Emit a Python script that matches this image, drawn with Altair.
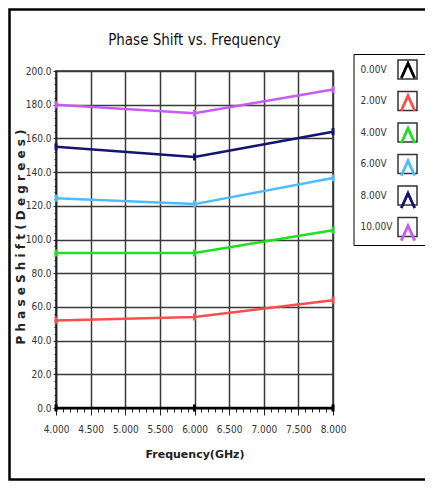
import altair as alt
import pandas as pd

freq = [4.0, 6.0, 8.0]
labels = ["0.00V", "2.00V", "4.00V", "6.00V", "8.00V", "10.00V"]
v0 = [0.0, 0.0, 0.0]
v2 = [52.0, 54.0, 64.0]
v4 = [92.0, 92.0, 105.5]
v6 = [124.5, 121.0, 136.5]
v8 = [155.0, 149.0, 164.0]
v10 = [180.0, 175.0, 189.0]
colors = ["#000000", "#ff4d4d", "#1ee01e", "#4cbcff", "#14146e", "#c65cf5"]

x_major = [4.0, 4.5, 5.0, 5.5, 6.0, 6.5, 7.0, 7.5, 8.0]
x_minor = [round(4.0 + 0.1 * i, 1) for i in range(41)]
y_major = [0, 20, 40, 60, 80, 100, 120, 140, 160, 180, 200]
y_minor = [4 * i for i in range(51)]

rows = []
for lab, vals in zip(labels, [v0, v2, v4, v6, v8, v10]):
    for f, v in zip(freq, vals):
        rows.append({"freq": f, "phase": v, "series": lab})
df = pd.DataFrame(rows)

FONT = "Liberation Sans Narrow, DejaVu Sans Condensed, sans-serif"
W, H = 277, 337

LEG_X, LEG_Y, LEG_PAD, SYM_OFF, ROW_PAD = 297.5, -17, 5, 38.5, 6.5

xscale = alt.Scale(domain=[4, 8], nice=False, zero=False)
yscale = alt.Scale(domain=[0, 200], nice=False)

color_enc = alt.Color(
    "series:N",
    scale=alt.Scale(domain=labels, range=colors),
    legend=alt.Legend(
        orient="none", legendX=LEG_X, legendY=LEG_Y, title=None,
        symbolType="M-0.7,0.85L0,-0.7L0.7,0.85",
        symbolSize=361, symbolStrokeWidth=2.5, symbolFillColor="transparent",
        symbolOffset=SYM_OFF, labelExpr="''", rowPadding=ROW_PAD,
        padding=LEG_PAD, labelOffset=0, titlePadding=0,
    ),
)

base = alt.Chart(df)

lines = base.mark_line(strokeWidth=2.5).encode(
    x=alt.X("freq:Q", scale=xscale,
            axis=alt.Axis(orient="bottom", values=x_major, format=".3f",
                          title="Frequency(GHz)", grid=True, tickSize=7,
                          labelPadding=9, titlePadding=14, labelOverlap=False,
                          labelFlush=False)),
    y=alt.Y("phase:Q", scale=yscale,
            axis=alt.Axis(orient="left", values=y_major, format=".1f",
                          title="P h a s e   S h i f t ( D e g r e e s )",
                          grid=True, tickSize=3, labelPadding=2, labelOverlap=False,
                          titleX=-36, titleY=H / 2 - 3, titleBaseline="middle",
                          titleAlign="center", titleFontSize=12)),
    color=color_enc,
)

marks = base.mark_point(shape="M0,-1L0,1", size=50, strokeWidth=3, filled=False, opacity=1).encode(
    x=alt.X("freq:Q", scale=xscale, axis=None),
    y=alt.Y("phase:Q", scale=yscale, axis=None),
    color=color_enc,
)

minor = base.mark_point(opacity=0).encode(
    x=alt.X("freq:Q", scale=xscale,
            axis=alt.Axis(orient="bottom", values=x_minor, labels=False, grid=False,
                          tickSize=4, domain=False, title="")),
    y=alt.Y("phase:Q", scale=yscale,
            axis=alt.Axis(orient="left", values=y_minor, labels=False, grid=False,
                          tickSize=2, domain=False, title="")),
    shape=alt.Shape(
        "series:N",
        scale=alt.Scale(domain=labels, range=["square"] * 6),
        legend=alt.Legend(
            orient="none", legendX=LEG_X, legendY=LEG_Y, title=None,
            symbolSize=361, symbolStrokeWidth=1.5, symbolStrokeColor="#333333",
            symbolFillColor="transparent", symbolOpacity=1, symbolOffset=SYM_OFF,
            labelOffset={"expr": "-57.5"}, rowPadding=ROW_PAD, padding=LEG_PAD,
            strokeColor="#000000", labelFont=FONT, labelFontSize=10,
            labelColor="#333333", titlePadding=0,
        ),
    ),
)

frame = alt.Chart(pd.DataFrame({"k": [0]})).mark_rect(
    fill="transparent", stroke="#000000", strokeWidth=2.5
).encode(x=alt.value(-46.5), x2=alt.value(380), y=alt.value(-61.5), y2=alt.value(408.5))

chart = alt.layer(frame, minor, lines, marks).resolve_axis(
    x="independent", y="independent"
).resolve_legend(color="independent", shape="independent").properties(
    width=W, height=H,
    title=alt.TitleParams("Phase Shift vs. Frequency", font=FONT, fontSize=15,
                          fontWeight="normal", color="#111111", offset=20, dy=60,
                          anchor="middle"),
    autosize=alt.AutoSizeParams(type="none"),
    padding={"left": 48, "top": 63, "right": 92, "bottom": 74},
).configure_view(stroke="#222222", strokeWidth=1.5).configure_axis(
    labelFont=FONT, labelFontSize=10, labelColor="#333333",
    titleFont="DejaVu Sans", titleFontSize=11, titleFontWeight="bold", titleColor="#222222",
    gridColor="#3a3a3a", gridWidth=1.5, gridOpacity=1,
    domainColor="#222222", tickColor="#222222", domainWidth=1.5,
)

chart.save("out.html", embed_options={"renderer": "svg", "actions": False})
